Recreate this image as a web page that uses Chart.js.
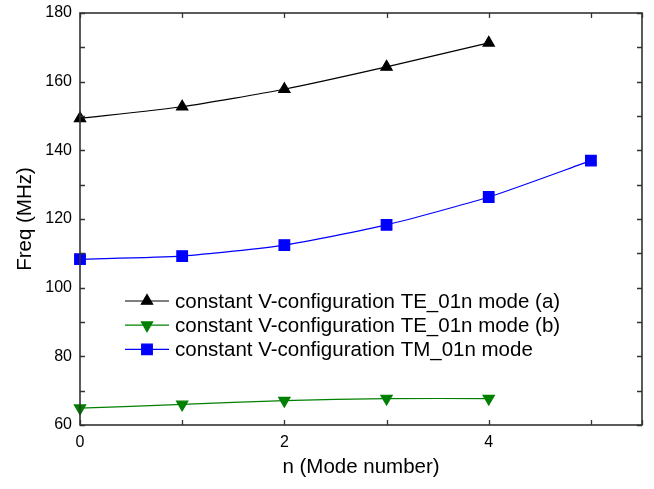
<!DOCTYPE html>
<html>
<head>
<meta charset="utf-8">
<script src="https://cdn.jsdelivr.net/npm/chart.js@4.4.1/dist/chart.umd.min.js"></script>
<style>
  body { margin: 0; background: #fff; }
  #wrap { width: 654px; height: 489px; position: relative; }
</style>
</head>
<body>
<div id="wrap"><canvas id="chart"></canvas></div>
<script>
// mode numbers and measured frequencies (MHz)
const modeNumbers = [0, 1, 2, 3, 4, 5];
const teModeA = [149.3, 152.7, 157.8, 164.3, 171.3];
const teModeB = [64.9, 66.0, 67.1, 67.7, 67.7];
const tmMode = [108.3, 109.2, 112.4, 118.3, 126.4, 137.0];
const seriesLabels = [
  'constant V-configuration TE_01n mode (a)',
  'constant V-configuration TE_01n mode (b)',
  'constant V-configuration TM_01n mode'
];
const xRange = [0, 5.5];
const yRange = [60, 180];

const toPoints = (vals) => vals.map((v, i) => ({ x: modeNumbers[i], y: v }));

const FONT = 'Arial, "Liberation Sans", sans-serif';

// frame on all four sides with inward ticks, plus the legend inside the plot
const framePlugin = {
  id: 'frame',
  afterDatasetsDraw(chart) {
    const { ctx, chartArea: a, scales } = chart;
    const tl = 5;
    ctx.save();
    ctx.strokeStyle = '#333';
    ctx.lineWidth = 1.3;
    ctx.beginPath();
    scales.x.ticks.forEach(t => {
      const px = Math.round(scales.x.getPixelForValue(t.value)) + 0.5;
      ctx.moveTo(px, a.bottom); ctx.lineTo(px, a.bottom - tl);
      ctx.moveTo(px, a.top); ctx.lineTo(px, a.top + tl);
    });
    scales.y.ticks.forEach(t => {
      const py = Math.round(scales.y.getPixelForValue(t.value)) + 0.5;
      ctx.moveTo(a.left, py); ctx.lineTo(a.left + tl, py);
      ctx.moveTo(a.right, py); ctx.lineTo(a.right - tl, py);
    });
    ctx.stroke();
    ctx.lineWidth = 1.6;
    ctx.strokeRect(a.left, a.top, a.right - a.left, a.bottom - a.top);

    // legend
    const lx = a.left + 45, ly = a.top + 288, rowH = 24.2;
    chart.data.datasets.forEach((ds, i) => {
      const y = ly + i * rowH;
      ctx.strokeStyle = ds.borderColor;
      ctx.lineWidth = 1.2;
      ctx.beginPath();
      ctx.moveTo(lx, y); ctx.lineTo(lx + 44, y);
      ctx.stroke();
      ctx.fillStyle = ds.pointBackgroundColor;
      ctx.strokeStyle = ds.pointBorderColor;
      Chart.helpers.drawPoint(ctx, {
        pointStyle: ds.pointStyle,
        rotation: ds.pointRotation || 0,
        radius: ds.pointRadius,
        borderWidth: 1
      }, lx + 22, y);
      ctx.fillStyle = '#000';
      ctx.font = '20.5px ' + FONT;
      ctx.textBaseline = 'middle';
      ctx.textAlign = 'left';
      ctx.fillText(seriesLabels[i], lx + 50, y + 1);
    });
    ctx.restore();
  }
};

new Chart(document.getElementById('chart'), {
  type: 'line',
  data: {
    datasets: [
      {
        label: seriesLabels[0],
        data: toPoints(teModeA),
        borderColor: '#000000',
        backgroundColor: '#000000',
        pointBackgroundColor: '#000000',
        pointBorderColor: '#000000',
        pointStyle: 'triangle',
        pointRadius: 6.5,
        borderWidth: 1.2,
        tension: 0.2
      },
      {
        label: seriesLabels[1],
        data: toPoints(teModeB),
        borderColor: '#008000',
        backgroundColor: '#008000',
        pointBackgroundColor: '#008000',
        pointBorderColor: '#008000',
        pointStyle: 'triangle',
        pointRotation: 180,
        pointRadius: 6.5,
        borderWidth: 1.2,
        tension: 0.2
      },
      {
        label: seriesLabels[2],
        data: toPoints(tmMode),
        borderColor: '#0000ff',
        backgroundColor: '#0000ff',
        pointBackgroundColor: '#0000ff',
        pointBorderColor: '#0000ff',
        pointStyle: 'rect',
        pointRadius: 7.5,
        borderWidth: 1.2,
        tension: 0.2
      }
    ]
  },
  options: {
    responsive: true,
    maintainAspectRatio: false,
    animation: false,
    clip: false,
    layout: { padding: { top: 13, right: 12, left: 0, bottom: 0 } },
    plugins: {
      legend: { display: false },
      tooltip: { enabled: false }
    },
    scales: {
      x: {
        type: 'linear',
        min: xRange[0],
        max: xRange[1],
        grid: { display: false, drawTicks: false },
        border: { display: false },
        ticks: {
          stepSize: 1,
          padding: 8,
          color: '#000',
          font: { size: 16, family: FONT },
          maxRotation: 0,
          callback: (v) => (v % 2 === 0 ? v : '')
        },
        title: {
          display: true,
          text: 'n (Mode number)',
          color: '#000',
          font: { size: 20.5, family: FONT },
          padding: { top: 4, bottom: 9 }
        },
        afterFit: (s) => { s.height = 64; s.paddingLeft = 0; s.paddingRight = 0; }
      },
      y: {
        min: yRange[0],
        max: yRange[1],
        grid: { display: false, drawTicks: false },
        border: { display: false },
        ticks: {
          stepSize: 10,
          padding: 8,
          color: '#000',
          font: { size: 16, family: FONT },
          callback: (v) => (v % 20 === 0 ? v : '')
        },
        title: {
          display: true,
          text: 'Freq (MHz)',
          color: '#000',
          font: { size: 20.5, family: FONT },
          padding: { top: 13, bottom: 4 }
        },
        afterFit: (s) => { s.width = 80; s.paddingTop = 0; s.paddingBottom = 0; }
      }
    }
  },
  plugins: [framePlugin]
});
</script>
</body>
</html>
